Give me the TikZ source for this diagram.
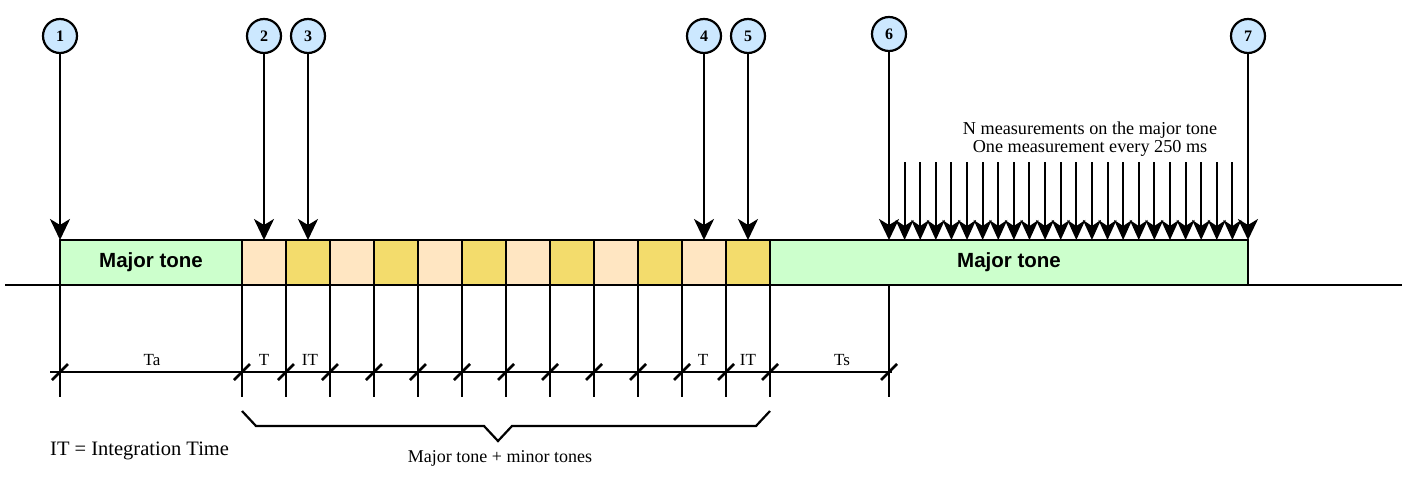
\documentclass[tikz,border=0pt]{standalone}
\usepackage{fontspec}
\setmainfont{Liberation Serif}
\newfontfamily\tonefont{Liberation Sans}
\usetikzlibrary{arrows.meta,positioning}

\definecolor{majorgreen}{HTML}{CCFFCC}
\definecolor{minorpeach}{HTML}{FFE6C2}
\definecolor{minoryellow}{HTML}{F3DC6C}
\definecolor{markerblue}{HTML}{CCE8FF}

\tikzset{
	tone/.style={draw, line width=2.5pt, minimum height=45pt, inner sep=0pt, outer sep=0pt, anchor=north west,
		font=\tonefont\bfseries\fontsize{20.5}{20.5}\selectfont},
	marker/.style={circle, draw, line width=2.2pt, fill=markerblue, minimum size=34pt, inner sep=0pt,
		font=\bfseries\fontsize{16}{16}\selectfont},
	hit/.style={-{Stealth[length=21pt,width=20pt,inset=6pt]}, line width=2.5pt},
	hitsmall/.style={-{Stealth[length=20pt,width=18pt,inset=6pt]}, line width=2pt},
	dimline/.style={line width=2.5pt},
	dimlabel/.style={font=\fontsize{17}{17}\selectfont, inner sep=0pt}
}

\begin{document}
\begin{tikzpicture}[x=1pt,y=-1pt]
	\useasboundingbox (0,0) rectangle (1411,490);

	% Linea base
	\draw [line width=2pt] (5,285) -- (1402,285);

	% Tonos
	\node [tone, fill=majorgreen, minimum width=182pt] (maj1) at (60,240) {Major tone};
	\foreach \i in {1,...,12}{
		\ifodd\i \def\cellfill{minorpeach}\else \def\cellfill{minoryellow}\fi
		\node [tone, fill=\cellfill, minimum width=44pt] (cell\i) at ({242+44*(\i-1)},240) {};
	}
	\node [tone, fill=majorgreen, minimum width=478pt] (maj2) at (770,240) {Major tone};
	\coordinate (tsend) at (889,240);

	% Marcadores
	\node [marker] (m1) at (maj1.north west |- 0,36) {1};
	\node [marker] (m2) at (cell1.north |- 0,36) {2};
	\node [marker] (m3) at (cell2.north |- 0,36) {3};
	\node [marker] (m4) at (cell11.north |- 0,36) {4};
	\node [marker] (m5) at (cell12.north |- 0,36) {5};
	\node [marker] (m6) at (tsend |- 0,34) {6};
	\node [marker] (m7) at (maj2.north east |- 0,36) {7};

	\draw [hit] (m1) -- (maj1.north west);
	\draw [hit] (m2) -- (cell1.north);
	\draw [hit] (m3) -- (cell2.north);
	\draw [hit] (m4) -- (cell11.north);
	\draw [hit] (m5) -- (cell12.north);
	\draw [hit] (m6) -- (tsend);
	\draw [hit] (m7) -- (maj2.north east);

	% Medidas
	\foreach \k in {1,...,22}{
		\path (tsend) -- (maj2.north east) coordinate[pos=\k/23] (hit\k);
		\draw [hitsmall] (hit\k |- 0,162) -- (hit\k);
	}
	\node [align=center, font=\fontsize{18.2}{18.5}\selectfont] (meas) at (1090,139)
		{N measurements on the major tone\\One measurement every 250 ms};

	% Cotas
	\draw [dimline] (maj1.south west) -- ++(0,112);
	\foreach \i in {1,...,12}
		\draw [dimline] (cell\i.south west) -- ++(0,112);
	\draw [dimline] (cell12.south east) -- ++(0,112);
	\draw [dimline] (tsend |- maj2.south) -- ++(0,112);

	\draw [dimline] (50,372) -- (892,372);
	\foreach \x in {60,242,286,...,770,889}
		\draw [dimline] (\x-8,380) -- (\x+8,364);

	\node [dimlabel] (ta) at (152,360) {Ta};
	\node [dimlabel] (t1) at (264,360) {T};
	\node [dimlabel] (it1) at (310,360) {IT};
	\node [dimlabel] (t2) at (703,360) {T};
	\node [dimlabel] (it2) at (748,360) {IT};
	\node [dimlabel] (ts) at (842,360) {Ts};

	% Llave
	\draw [line width=2.2pt] (242,411) -- (256,426) -- (484,426) -- (498,441) -- (512,426) -- (756,426) -- (770,411);
	\node [font=\fontsize{18}{18}\selectfont] (brlabel) at (500,458) {Major tone + minor tones};

	\node [anchor=west, inner sep=0pt, font=\fontsize{20.5}{20.5}\selectfont] (legend) at (50,451) {IT = Integration Time};
\end{tikzpicture}
\end{document}
